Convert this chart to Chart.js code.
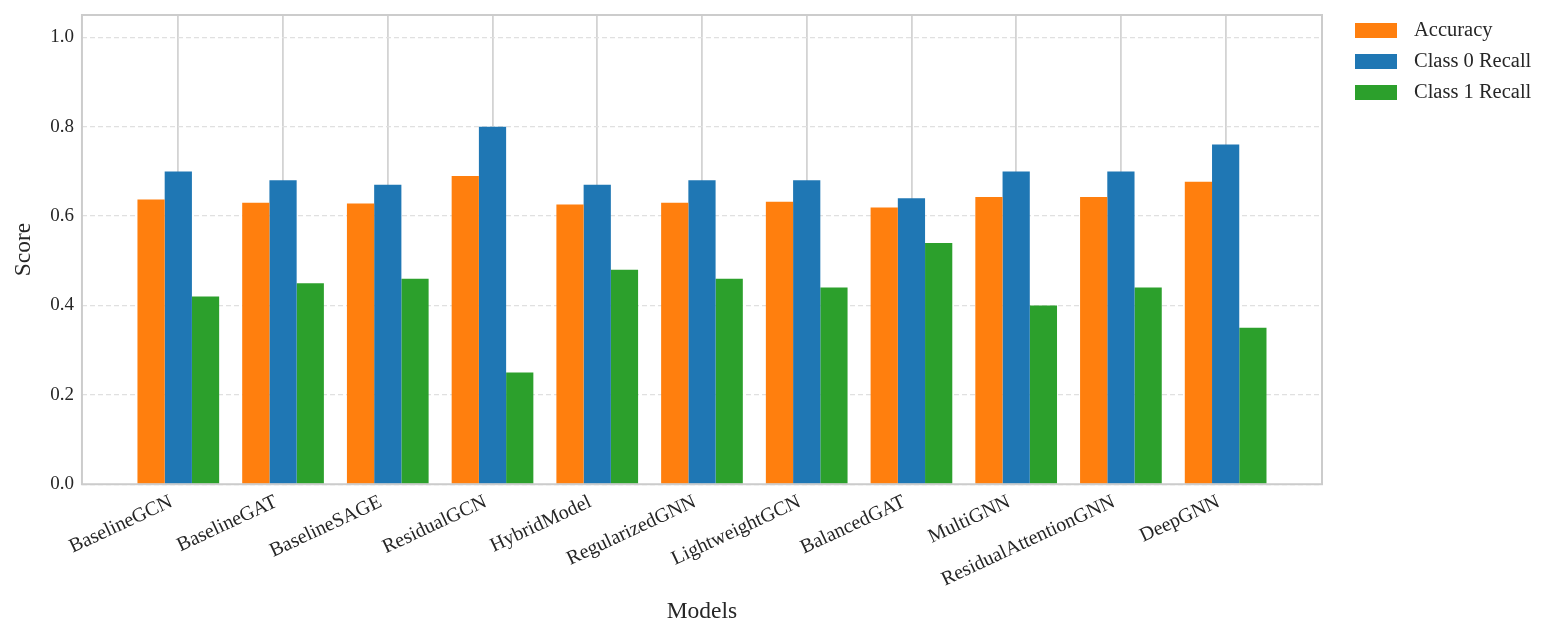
<!DOCTYPE html>
<html>
<head>
<meta charset="utf-8">
<script src="https://cdn.jsdelivr.net/npm/chart.js@4"></script>
<style>
html,body{margin:0;padding:0;background:#fff;}
#wrap{width:1556px;height:640px;}
</style>
</head>
<body>
<div id="wrap"><canvas id="c" width="1556" height="640"></canvas></div>
<script>
const categories = ["BaselineGCN","BaselineGAT","BaselineSAGE","ResidualGCN","HybridModel","RegularizedGNN","LightweightGCN","BalancedGAT","MultiGNN","ResidualAttentionGNN","DeepGNN"];
const accuracy = [0.637,0.630,0.628,0.690,0.626,0.630,0.632,0.619,0.643,0.643,0.677];
const class0Recall = [0.70,0.68,0.67,0.80,0.67,0.68,0.68,0.64,0.70,0.70,0.76];
const class1Recall = [0.42,0.45,0.46,0.25,0.48,0.46,0.44,0.54,0.40,0.44,0.35];
const yTicks = [0,0.2,0.4,0.6,0.8,1.0];

const FONT = "'Liberation Serif','DejaVu Serif',serif";
const TXT = '#262626';

function pts(arr){ return arr.map((v,i)=>({x:i,y:v})); }

const framePlugin = {
  id:'frame',
  afterDraw(chart){
    const a = chart.chartArea, ctx = chart.ctx;
    ctx.save();
    ctx.strokeStyle = '#cccccc';
    ctx.lineWidth = 2;
    ctx.strokeRect(a.left, a.top, a.right-a.left, a.bottom-a.top);
    // legend
    const x0 = a.right + 33, y0 = 23, rowH = 31;
    ctx.font = "20.5px " + FONT;
    ctx.textBaseline = 'middle';
    ctx.textAlign = 'left';
    chart.data.datasets.forEach((ds,i)=>{
      const y = y0 + i*rowH;
      ctx.fillStyle = ds.backgroundColor;
      ctx.fillRect(x0, y, 42, 15);
      ctx.fillStyle = TXT;
      ctx.fillText(ds.label, x0 + 59, y + 8);
    });
    ctx.restore();
  }
};

new Chart(document.getElementById('c'), {
  type:'bar',
  data:{
    datasets:[
      {label:'Accuracy', data:pts(accuracy), backgroundColor:'#ff7f0e'},
      {label:'Class 0 Recall', data:pts(class0Recall), backgroundColor:'#1f77b4'},
      {label:'Class 1 Recall', data:pts(class1Recall), backgroundColor:'#2ca02c'}
    ]
  },
  options:{
    responsive:false,
    animation:false,
    devicePixelRatio:1,
    layout:{padding:{left:10,top:15,right:234,bottom:14}},
    datasets:{bar:{categoryPercentage:0.78,barPercentage:1.0,borderWidth:0}},
    scales:{
      x:{
        type:'linear',
        offset:false,
        min:-0.92, max:10.92,
        afterBuildTicks(s){ s.ticks = categories.map((c,i)=>({value:i})); },
        ticks:{
          autoSkip:false, minRotation:25, maxRotation:25,
          color:TXT, font:{family:FONT,size:20},
          padding:6, labelOffset:-7,
          callback:(v)=>categories[v]
        },
        grid:{color:'#d3d3d3', lineWidth:1.8, drawTicks:false, offset:false},
        border:{display:false},
        title:{display:true,text:'Models',color:TXT,font:{family:FONT,size:23.5},padding:{top:0,bottom:0}}
      },
      y:{
        min:0, max:1.05,
        afterBuildTicks(s){ s.ticks = yTicks.map(v=>({value:v})); },
        afterFit(s){ s.paddingTop = 0; s.paddingBottom = 0; },
        ticks:{color:TXT,font:{family:FONT,size:19},padding:8,callback:(v)=>Number(v).toFixed(1)},
        grid:{color:'#e0e0e0',lineWidth:1.2,drawTicks:false},
        border:{display:false,dash:[5,3]},
        title:{display:true,text:'Score',color:TXT,font:{family:FONT,size:23.5},padding:{top:0,bottom:4}}
      }
    },
    plugins:{
      legend:{display:false},
      tooltip:{enabled:false}
    }
  },
  plugins:[framePlugin]
});
</script>
</body>
</html>
